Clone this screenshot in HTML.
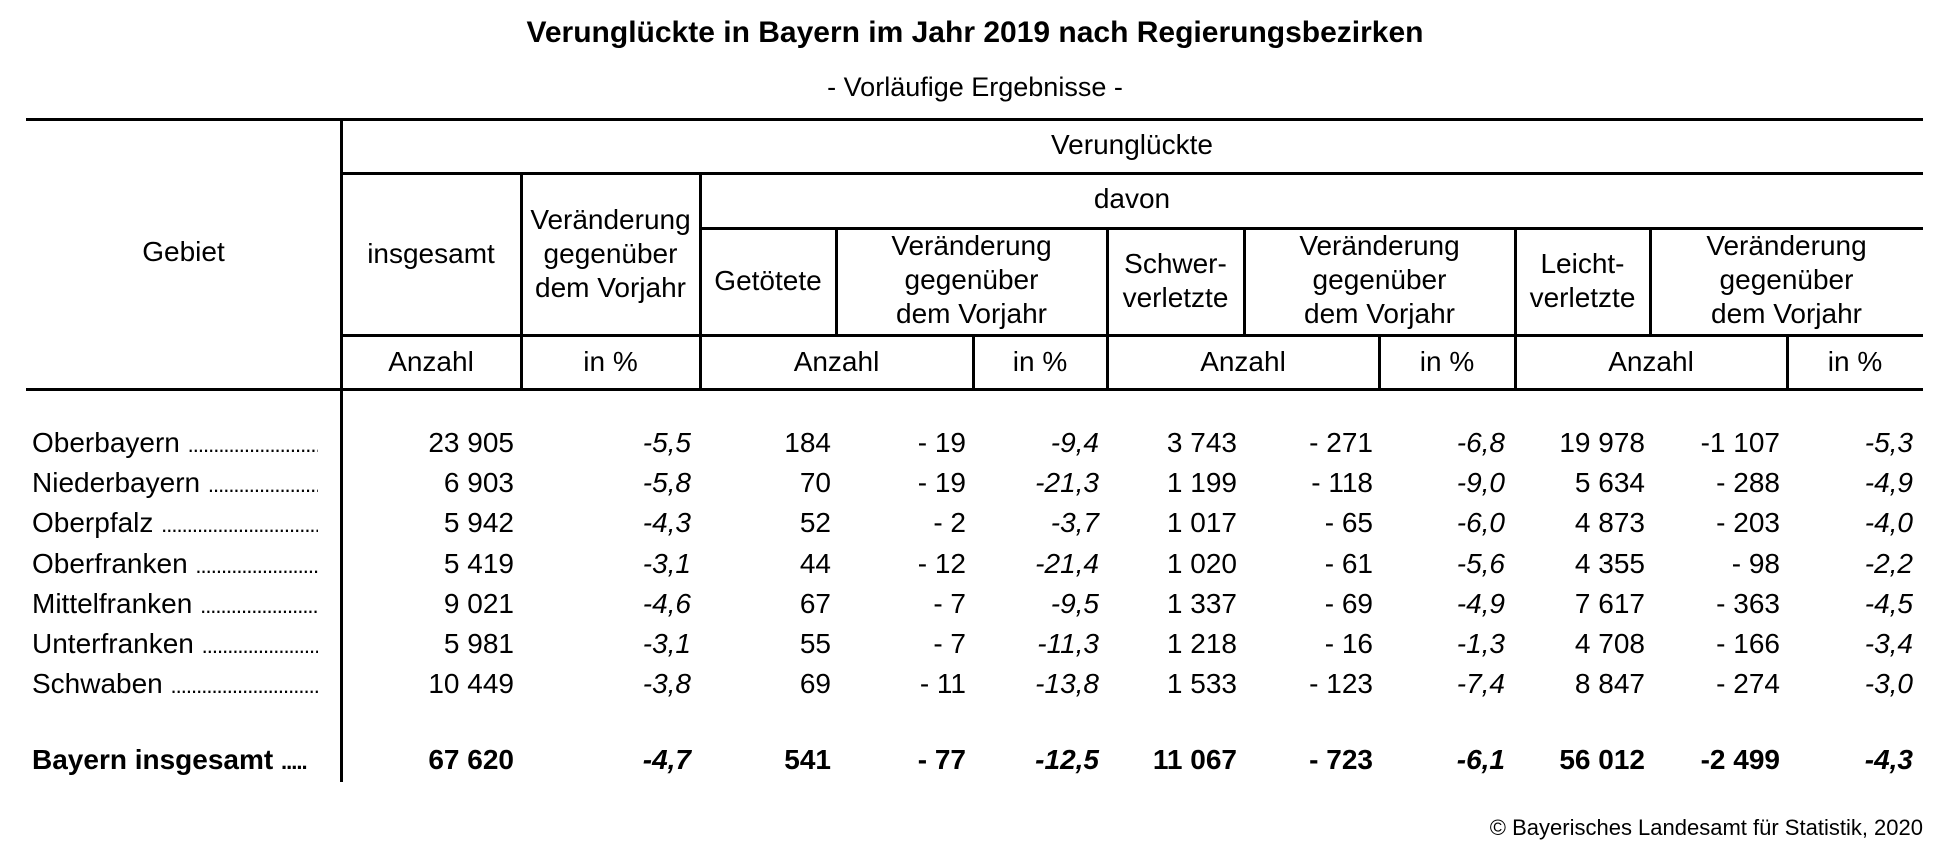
<!DOCTYPE html>
<html><head><meta charset="utf-8"><style>
body{margin:0;background:#fff;}
#c{position:relative;width:1950px;height:868px;overflow:hidden;font-family:"Liberation Sans",Arial,sans-serif;color:#000;font-size:28px;}
.h{position:absolute;background:#000;height:3px;}
.v{position:absolute;background:#000;width:3px;}
.t{position:absolute;text-align:center;line-height:34px;white-space:nowrap;}
.r{position:absolute;text-align:right;line-height:40px;white-space:nowrap;}
.n{position:absolute;left:32px;width:286px;overflow:hidden;white-space:nowrap;line-height:40px;}
.i{font-style:italic;}
.b{font-weight:bold;}
.d{font-size:22px;letter-spacing:-1px;}
</style></head><body><div id="c">
<div class="t b" style="left:0;width:1950px;top:16px;font-size:30px;">Verunglückte in Bayern im Jahr 2019 nach Regierungsbezirken</div>
<div class="t" style="left:0;width:1950px;top:70px;font-size:27px;">- Vorläufige Ergebnisse -</div>

<div class="h" style="left:26px;width:1897px;top:118px;"></div>
<div class="h" style="left:341px;width:1582px;top:172px;"></div>
<div class="h" style="left:700px;width:1223px;top:227px;"></div>
<div class="h" style="left:341px;width:1582px;top:334px;"></div>
<div class="h" style="left:26px;width:1897px;top:388px;"></div>

<div class="v" style="left:340px;top:119px;height:663px;"></div>
<div class="v" style="left:520px;top:173px;height:216px;"></div>
<div class="v" style="left:699px;top:173px;height:216px;"></div>
<div class="v" style="left:835px;top:228px;height:107px;"></div>
<div class="v" style="left:972px;top:335px;height:54px;"></div>
<div class="v" style="left:1106px;top:228px;height:161px;"></div>
<div class="v" style="left:1243px;top:228px;height:107px;"></div>
<div class="v" style="left:1378px;top:335px;height:54px;"></div>
<div class="v" style="left:1514px;top:228px;height:161px;"></div>
<div class="v" style="left:1649px;top:228px;height:107px;"></div>
<div class="v" style="left:1786px;top:335px;height:54px;"></div>

<div class="t" style="left:26px;width:315px;top:235px;">Gebiet</div>
<div class="t" style="left:341px;width:1582px;top:128px;">Verunglückte</div>
<div class="t" style="left:341px;width:1582px;top:182px;">davon</div>
<div class="t" style="left:341px;width:180px;top:237px;">insgesamt</div>
<div class="t" style="left:521px;width:179px;top:203px;">Veränderung<br>gegenüber<br>dem Vorjahr</div>
<div class="t" style="left:700px;width:136px;top:264px;">Getötete</div>
<div class="t" style="left:836px;width:271px;top:229px;">Veränderung<br>gegenüber<br>dem Vorjahr</div>
<div class="t" style="left:1107px;width:137px;top:247px;">Schwer-<br>verletzte</div>
<div class="t" style="left:1244px;width:271px;top:229px;">Veränderung<br>gegenüber<br>dem Vorjahr</div>
<div class="t" style="left:1515px;width:135px;top:247px;">Leicht-<br>verletzte</div>
<div class="t" style="left:1650px;width:273px;top:229px;">Veränderung<br>gegenüber<br>dem Vorjahr</div>

<div class="t" style="left:341px;width:180px;top:345px;">Anzahl</div>
<div class="t" style="left:521px;width:179px;top:345px;">in %</div>
<div class="t" style="left:700px;width:273px;top:345px;">Anzahl</div>
<div class="t" style="left:973px;width:134px;top:345px;">in %</div>
<div class="t" style="left:1107px;width:272px;top:345px;">Anzahl</div>
<div class="t" style="left:1379px;width:136px;top:345px;">in %</div>
<div class="t" style="left:1515px;width:272px;top:345px;">Anzahl</div>
<div class="t" style="left:1787px;width:136px;top:345px;">in %</div>

<div id="rows"></div>
<div class="r" style="right:27px;top:808px;font-size:22px;">© Bayerisches Landesamt für Statistik, 2020</div>
</div>
<script>
var d=[["Oberbayern","23 905","-5,5","184","- 19","-9,4","3 743","- 271","-6,8","19 978","-1 107","-5,3"],
["Niederbayern","6 903","-5,8","70","- 19","-21,3","1 199","- 118","-9,0","5 634","- 288","-4,9"],
["Oberpfalz","5 942","-4,3","52","- 2","-3,7","1 017","- 65","-6,0","4 873","- 203","-4,0"],
["Oberfranken","5 419","-3,1","44","- 12","-21,4","1 020","- 61","-5,6","4 355","- 98","-2,2"],
["Mittelfranken","9 021","-4,6","67","- 7","-9,5","1 337","- 69","-4,9","7 617","- 363","-4,5"],
["Unterfranken","5 981","-3,1","55","- 7","-11,3","1 218","- 16","-1,3","4 708","- 166","-3,4"],
["Schwaben","10 449","-3,8","69","- 11","-13,8","1 533","- 123","-7,4","8 847","- 274","-3,0"],
["Bayern insgesamt","67 620","-4,7","541","- 77","-12,5","11 067","- 723","-6,1","56 012","-2 499","-4,3"]];
var R=[514,691,831,966,1099,1237,1373,1505,1645,1780,1913];
var it=[0,1,0,0,1,0,0,1,0,0,1];
var h="";
d.forEach(function(r,k){var y=(k<7?443+40.2*k:760)-20;var b=k==7?" b":"";
h+='<div class="n'+b+'" style="top:'+y+'px">'+r[0]+' <span class="d">'+(k==7?'.....':'..............................................................')+'</span></div>';
for(var j=1;j<12;j++){h+='<div class="r'+b+(it[j-1]?' i':'')+'" style="right:'+(1950-R[j-1])+'px;top:'+y+'px">'+r[j]+'</div>';}});
document.getElementById("rows").innerHTML=h;
</script>
</body></html>
